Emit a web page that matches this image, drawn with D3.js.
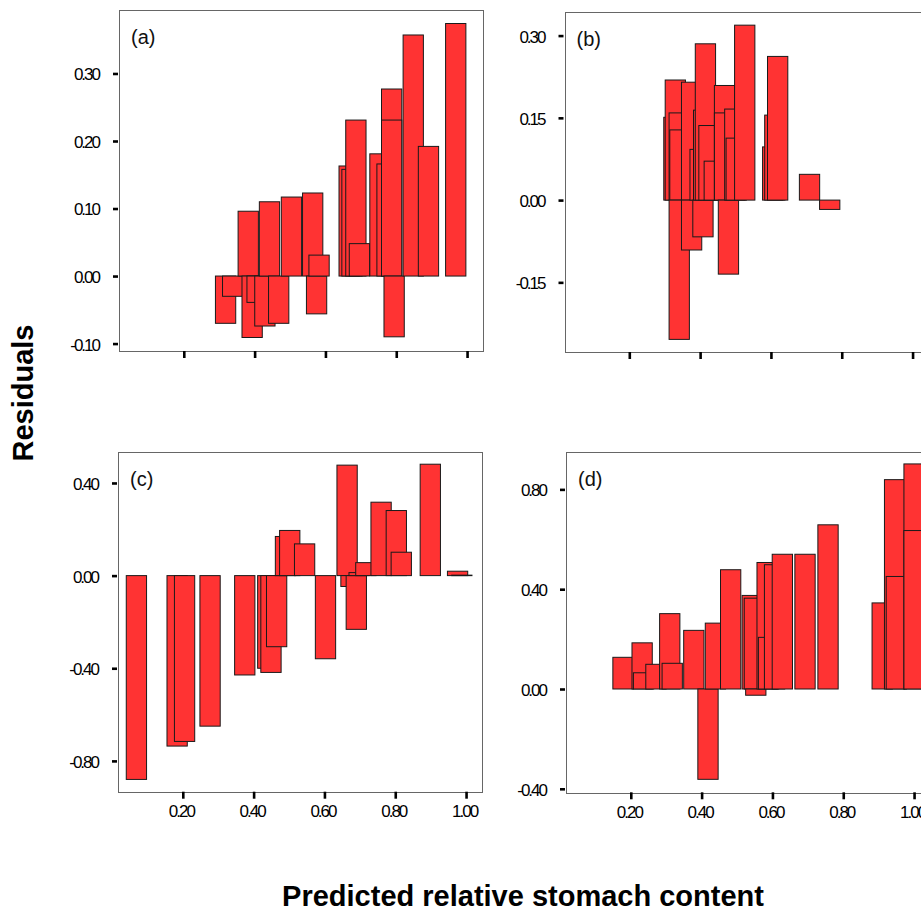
<!DOCTYPE html>
<html><head><meta charset="utf-8">
<script src="https://cdn.jsdelivr.net/npm/d3@7"></script>
<style>body{margin:0;background:#fff}svg{display:block}</style>
</head><body><svg id="chart" width="921" height="913"></svg>
<script>
// ---- data ----
const xTickVals = [0.2, 0.4, 0.6, 0.8, 1.0];
const xTickLabels = ["0.20", "0.40", "0.60", "0.80", "1.00"];

const aX = [0.318,0.338,0.382,0.393,0.407,0.429,0.442,0.468,0.504,0.564,0.575,0.582,0.667,0.675,0.686,0.696,0.754,0.774,0.787,0.787,0.794,0.848,0.891,0.968];
const aR = [-0.070,-0.030,0.096,-0.091,-0.039,-0.074,0.110,-0.070,0.117,0.123,-0.056,0.031,0.163,0.158,0.231,0.048,0.181,0.166,0.277,0.231,-0.090,0.357,0.192,0.374];
const aYTicks = [0.3, 0.2, 0.1, 0.0, -0.1];
const aYLabels = ["0.30", "0.20", "0.10", "0.00", "-0.10"];

const bX = [0.326,0.330,0.341,0.343,0.341,0.376,0.376,0.400,0.408,0.410,0.415,0.425,0.440,0.469,0.469,0.480,0.498,0.502,0.526,0.605,0.611,0.619,0.709,0.766];
const bR = [0.151,0.219,0.159,0.128,-0.254,0.215,-0.091,0.0925,-0.067,0.164,0.285,0.136,0.071,0.209,0.159,-0.135,0.166,0.113,0.319,0.097,0.155,0.262,0.047,-0.017];
const bYTicks = [0.30, 0.15, 0.0, -0.15];
const bYLabels = ["0.30", "0.15", "0.00", "-0.15"];

const cX = [0.069,0.184,0.205,0.277,0.375,0.440,0.449,0.465,0.490,0.502,0.544,0.603,0.664,0.675,0.690,0.698,0.717,0.760,0.803,0.817,0.899,0.976,0.988];
const cR = [-0.880,-0.736,-0.716,-0.650,-0.429,-0.400,-0.418,-0.307,0.169,0.195,0.137,-0.359,0.477,-0.047,-0.232,0.013,0.056,0.317,0.281,0.101,0.481,0.019,0.002];
const cYTicks = [0.4, 0.0, -0.4, -0.8];
const cYLabels = ["0.40", "0.00", "-0.40", "-0.80"];

const dX = [0.178,0.232,0.236,0.271,0.310,0.317,0.378,0.418,0.439,0.482,0.543,0.549,0.553,0.585,0.589,0.606,0.628,0.692,0.757,0.910,0.945,0.950,1.000,1.000];
const dR = [0.127,0.185,0.065,0.099,0.302,0.103,0.235,-0.362,0.264,0.478,0.375,0.364,-0.025,0.507,0.207,0.498,0.540,0.540,0.658,0.345,0.839,0.451,0.902,0.635];
const dYTicks = [0.8, 0.4, 0.0, -0.4];
const dYLabels = ["0.80", "0.40", "0.00", "-0.40"];

const panelLabels = ["(a)", "(b)", "(c)", "(d)"];
const xTitle = "Predicted relative stomach content";
const yTitle = "Residuals";

// ---- layout ----
const barW = 0.0573;
const xDomain = [0.017, 1.045];
const FONT = "'Liberation Sans', Arial, Helvetica, sans-serif";
const panels = [
  {left:119,   top:10,    w:364, h:341,   yDom:[-0.111,0.394], xs:aX, rs:aR, yt:aYTicks, yl:aYLabels, xLab:false, lab:panelLabels[0]},
  {left:564.5, top:12,    w:364, h:340,   yDom:[-0.277,0.343], xs:bX, rs:bR, yt:bYTicks, yl:bYLabels, xLab:false, lab:panelLabels[1]},
  {left:118,   top:451.7, w:364, h:340,   yDom:[-0.933,0.535], xs:cX, rs:cR, yt:cYTicks, yl:cYLabels, xLab:true,  lab:panelLabels[2]},
  {left:566,   top:451.7, w:364, h:340.6, yDom:[-0.414,0.951], xs:dX, rs:dR, yt:dYTicks, yl:dYLabels, xLab:true,  lab:panelLabels[3]}
];

const svg = d3.select("#chart");

panels.forEach(p => {
  const x = d3.scaleLinear().domain(xDomain).range([p.left, p.left + p.w]);
  const y = d3.scaleLinear().domain(p.yDom).range([p.top + p.h, p.top]);
  const g = svg.append("g");

  // frame
  g.append("rect")
    .attr("x", Math.round(p.left) + 0.5).attr("y", Math.round(p.top) + 0.5)
    .attr("width", Math.round(p.w)).attr("height", Math.round(p.h))
    .attr("fill", "#fff").attr("stroke", "#666").attr("stroke-width", 1);

  // bars
  const data = p.xs.map((v, i) => ({x: v, r: p.rs[i]}));
  const bw = x(barW) - x(0);
  g.selectAll("rect.bar").data(data).enter().append("rect")
    .attr("class", "bar")
    .attr("x", d => x(d.x) - bw / 2)
    .attr("width", bw)
    .attr("y", d => y(Math.max(0, d.r)))
    .attr("height", d => Math.max(0.5, Math.abs(y(d.r) - y(0))))
    .attr("fill", "#ff3333")
    .attr("stroke", "#1a1a1a")
    .attr("stroke-width", 1);

  // y axis
  const yAxis = d3.axisLeft(y).tickValues(p.yt)
    .tickFormat((d, i) => p.yl[i]).tickSize(5).tickPadding(14).tickSizeOuter(0);
  const ya = g.append("g").attr("transform", `translate(${p.left - 1},0)`).call(yAxis);
  ya.select(".domain").remove();
  ya.selectAll("line").attr("stroke", "#000").attr("stroke-width", 2.6);
  ya.selectAll("text").attr("font-family", FONT).attr("font-size", 17)
    .attr("letter-spacing", "-2px").attr("fill", "#000").attr("dy", "0.38em");

  // x axis
  const xAxis = d3.axisBottom(x).tickValues(xTickVals)
    .tickFormat((d, i) => p.xLab ? xTickLabels[i] : "").tickSize(7).tickPadding(6.5).tickSizeOuter(0);
  const xa = g.append("g").attr("transform", `translate(0,${p.top + p.h})`).call(xAxis);
  xa.select(".domain").remove();
  xa.selectAll("line").attr("stroke", "#000").attr("stroke-width", 2.6);
  xa.selectAll("text").attr("font-family", FONT).attr("font-size", 17)
    .attr("letter-spacing", "-2px").attr("fill", "#000").attr("dx", "-2");

  // panel label
  g.append("text").attr("x", p.left + 12).attr("y", p.top + 34)
    .attr("font-family", FONT).attr("font-size", 20).attr("fill", "#111").text(p.lab);
});

// axis titles
svg.append("text")
  .attr("transform", "translate(33,393) rotate(-90)")
  .attr("text-anchor", "middle")
  .attr("font-family", FONT).attr("font-weight", "bold").attr("font-size", 29)
  .attr("fill", "#000").text(yTitle);

svg.append("text")
  .attr("x", 523).attr("y", 906)
  .attr("text-anchor", "middle")
  .attr("font-family", FONT).attr("font-weight", "bold").attr("font-size", 29)
  .attr("fill", "#000").text(xTitle);
</script>
</body></html>
